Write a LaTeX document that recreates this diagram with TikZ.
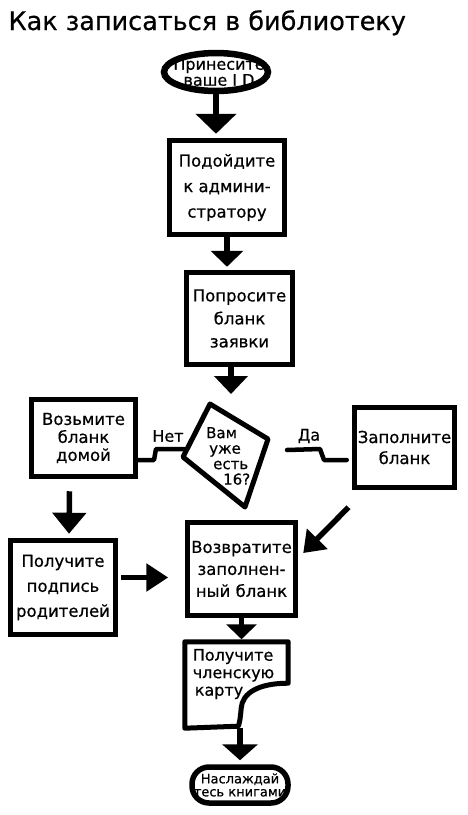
\documentclass[tikz,border=0pt]{standalone}
\usepackage{fontspec}
\setmainfont[FakeBold=0.6]{DejaVu Sans}
\usetikzlibrary{arrows.meta,positioning,calc,shapes.geometric}
\begin{document}
\begin{tikzpicture}[x=1pt,y=-1pt,
  bx/.style={draw,line width=5.5pt,align=center,inner sep=0pt,
             font=\fontsize{16.5}{#1}\selectfont},
  bx/.default=24,
  term/.style={draw,line width=6.5pt,inner sep=0pt},
  link/.style={line width=4.5pt,line cap=round,line join=round},
  arr/.style={line width=5.5pt,-{Triangle[length=18pt,width=33pt]}},
  lbl/.style={font=\fontsize{16}{16}\selectfont}]
\useasboundingbox (0,0) rectangle (467,815);
\node[anchor=base west,font=\fontsize{25.5}{25.5}\selectfont] (title) at (5,30)
  {Как записаться в библиотеку};
\node[term,ellipse,minimum width=104pt,minimum height=38pt,
  label={[align=center,font=\fontsize{16}{14}\selectfont,xshift=3pt]center:Принесите\\ваше I D}]
  (start) at (216,72) {};
\node[bx=25.5,minimum width=115pt,minimum height=94pt] (adm) at (227,187.5)
  {Подойдите\\к админи-\\стратору};
\node[bx=23,minimum width=106pt,minimum height=92pt] (ask) at (239.5,318.5)
  {Попросите\\бланк\\заявки};
% вопрос о возрасте
\coordinate (qt) at (210,404);
\coordinate (qr) at (268,439);
\coordinate (qb) at (245,507);
\coordinate (ql) at (183,457);
\draw[line width=5pt,line join=round] (qt) -- (qr) -- (qb) -- (ql) -- cycle;
\node[align=left,inner sep=0pt,font=\fontsize{15}{15.5}\selectfont,anchor=west]
  (age) at (206,456) {Вам\\\hspace{3pt}уже\\\hspace{7pt}есть\\\hspace{17pt}16?};
\node[bx=18,minimum width=104pt,minimum height=77pt] (home) at (83.5,438)
  {Возьмите\\бланк\\домой};
\node[bx=21,minimum width=100pt,minimum height=80pt] (fill) at (404.5,447.5)
  {Заполните\\бланк};
\node[bx=25,minimum width=105pt,minimum height=94pt] (sign) at (63,587.5)
  {Получите\\подпись\\родителей};
\node[bx=22,minimum width=108pt,minimum height=93pt] (ret) at (241.5,569)
  {Возвратите\\заполнен-\\ный бланк};
\node[inner sep=0pt,minimum width=103pt,minimum height=86pt,
  label={[align=left,font=\fontsize{16}{17.5}\selectfont,yshift=11pt,xshift=-3pt]center:Получите\\членскую\\\hspace{2pt}карту}]
  (card) at (236.5,685) {};
\draw[line width=5pt,line join=round] (card.north west) -- (card.north east)
  -- ($(card.south east)+(0,-45)$)
  .. controls ($(card.south east)+(-30,-45)$) and ($(card.south east)+(-46,-35)$) ..
  ($(card.south east)+(-47,-20)$)
  .. controls ($(card.south east)+(-48,-8)$) and ($(card.south east)+(-49,-4)$) ..
  ($(card.south east)+(-50,-2)$) -- (card.south west) -- cycle;
\node[term,line width=5.5pt,rounded corners=17pt,minimum width=96pt,minimum height=36pt,
  label={[align=center,font=\fontsize{13}{13}\selectfont]center:Наслаждай\\тесь книгами}]
  (end) at (240,785) {};
% стрелки
\coordinate (qin) at (231,394);
\draw[arr,-{Triangle[length=20pt,width=40pt]},shorten >=4pt] (start.south) -- (start.south |- adm.north);
\draw[arr,-{Triangle[length=16pt,width=32pt]},shorten >=3pt] (adm.south) -- (adm.south |- ask.north);
\draw[arr] (ask.south -| qin) -- (qin);
\draw[arr,-{Triangle[length=21pt,width=33pt]}] ($(home.south)+(-14,12)$) -- ($(sign.north)+(6,-4)$);
\draw[arr,-{Triangle[length=22pt,width=27pt]}] ($(sign.east)+(3,-10)$) -- ++(47,0);
\draw[arr,-{Triangle[length=20pt,width=28pt]}] ($(fill.south)+(-56,17)$) -- ($(ret.east)+(5,-16)$);
\draw[arr,-{Triangle[length=15pt,width=30pt]}] (ret.south) -- ++(0,21);
\draw[arr,-{Triangle[length=16pt,width=35pt]}] (end.north |- card.south) -- ($(end.north)+(0,-4)$);
% ветки
\coordinate (qno) at (184,449);
\coordinate (qyes) at (287,450);
\draw[link] (qno) -- ++(-28,0) -- ++(-2,11) coordinate (n1) -- (n1 -| home.east);
\node[lbl] (no) at (168,436) {Нет};
\draw[link] (qyes) -- ++(33,-1) -- ++(4,11) coordinate (y1) -- ($(y1 -| fill.west)+(-5,0)$);
\node[lbl] (yes) at (309,436) {Да};
\end{tikzpicture}
\end{document}
